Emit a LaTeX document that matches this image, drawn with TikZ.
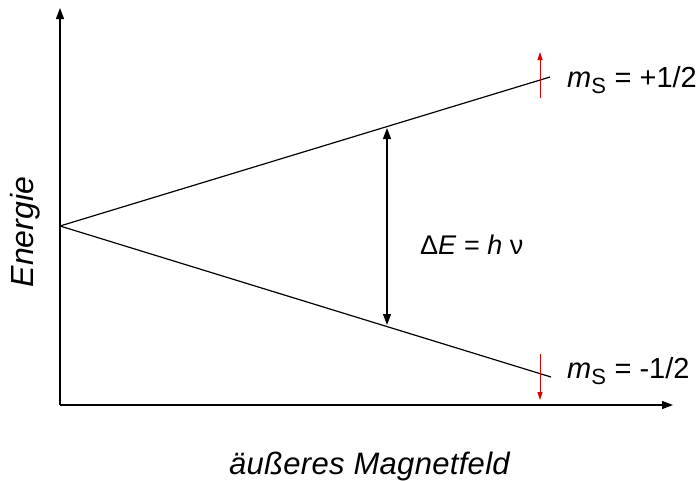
\documentclass[tikz,border=0pt]{standalone}
\usepackage{fontspec}
\setmainfont{Liberation Sans}
\usetikzlibrary{arrows.meta}
\begin{document}
\begin{tikzpicture}[x=1pt,y=-1pt,
  axis/.style={line width=1.3pt,-{Triangle[length=11pt,width=8pt]}},
  level/.style={line width=1.2pt},
  gap/.style={line width=1.2pt,{Triangle[length=11pt,width=8pt]}-{Triangle[length=11pt,width=8pt]}},
  spin/.style={line width=0.9pt,red!85!black,-{Triangle[length=8pt,width=5pt]}},
  lbl/.style={inner sep=0pt}]
\useasboundingbox (0,0) rectangle (700,480);
\coordinate (O) at (60,405);
\coordinate (ytop) at (60,8);
\coordinate (xend) at (673,405);
\coordinate (S) at (60,226);
\coordinate (U) at (550,77);
\coordinate (L) at (551,377);
\coordinate (gu) at (387,128);
\coordinate (gl) at (387,325);
\coordinate (su1) at (540,98);
\coordinate (su2) at (540,52);
\coordinate (sd1) at (540,354);
\coordinate (sd2) at (540,400);
\draw[axis] (O) -- (ytop);
\draw[axis] (O) -- (xend);
\draw[level] (S) -- (U);
\draw[level] (S) -- (L);
\draw[gap] (gu) -- (gl);
\draw[spin] (su1) -- (su2);
\draw[spin] (sd1) -- (sd2);
\node[lbl, anchor=west, font=\fontsize{27}{29}\selectfont] (dE) at (420,245) {Δ\textit{E} = \textit{h} ν};
\node[lbl, anchor=west, font=\fontsize{29}{31}\selectfont] (mp) at (567,80) {\textit{m}\textsubscript{\fontsize{22}{24}\selectfont S} = +1/2};
\node[lbl, anchor=west, font=\fontsize{29}{31}\selectfont] (mm) at (567,371) {\textit{m}\textsubscript{\fontsize{22}{24}\selectfont S} = -1/2};
\node[lbl, rotate=90, font=\fontsize{32}{34}\selectfont] (en) at (25,232) {\textit{Energie}};
\node[lbl, font=\fontsize{31}{33}\selectfont\addfontfeature{LetterSpace=1}] (bf) at (370,466) {\textit{äußeres Magnetfeld}};
\end{tikzpicture}
\end{document}
